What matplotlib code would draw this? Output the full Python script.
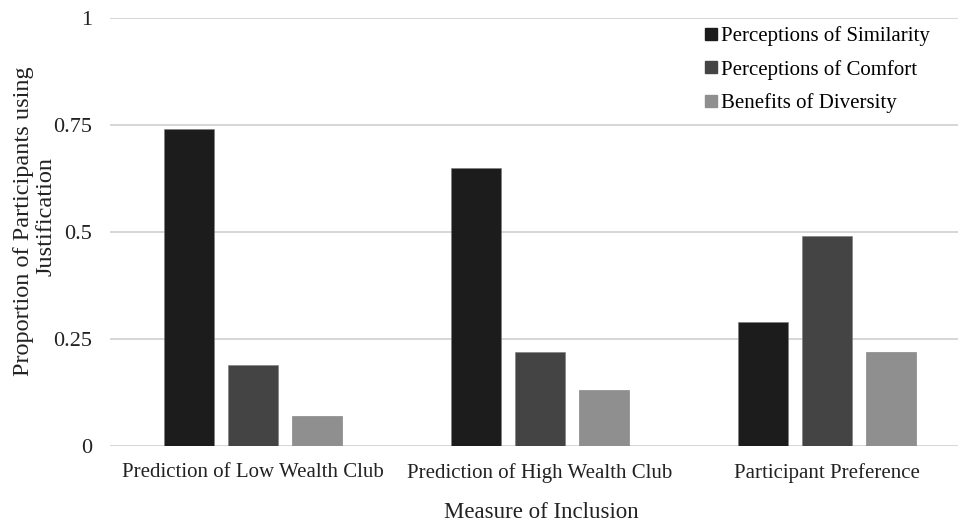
import numpy as np
import matplotlib.pyplot as plt
from matplotlib.lines import Line2D

categories = ['Prediction of Low Wealth Club', 'Prediction of High Wealth Club', 'Participant Preference']
series = ['Perceptions of Similarity', 'Perceptions of Comfort', 'Benefits of Diversity']
similarity = [0.74, 0.65, 0.29]
comfort = [0.19, 0.22, 0.49]
diversity = [0.07, 0.13, 0.22]
yticks = [0, 0.25, 0.5, 0.75, 1]
ytick_labels = ['0', '0.25', '0.5', '0.75', '1']

colors = ['#1c1c1c', '#444444', '#8f8f8f']

plt.rcParams['font.family'] = ['Liberation Serif', 'DejaVu Serif']

fig = plt.figure(figsize=(9.58, 5.25), dpi=100)
W, H = 958, 525
ax = fig.add_axes([110 / W, (H - 446) / H, (958 - 110) / W, (446 - 18) / H])

x = np.arange(len(categories))
width = 0.174
step = 0.223
for i, (vals, c) in enumerate(zip([similarity, comfort, diversity], colors)):
    ax.bar(x + (i - 1) * step, vals, width, color=c, edgecolor='#7a7a7a',
           linewidth=0.4, zorder=3, label=series[i])

ax.set_xlim(-0.5, 2.5 - 12 / 287)
ax.set_ylim(0, 1)
ax.set_yticks(yticks)
ax.set_yticklabels(ytick_labels, fontsize=16)
ax.set_xticks(x)
ax.set_xticklabels(categories, fontsize=15)
ax.tick_params(axis='both', length=0, colors='#222222')
ax.tick_params(axis='y', pad=13)
ax.tick_params(axis='x', pad=12)

ax.grid(axis='y', color='#d0d0d0', linewidth=1.2, zorder=0)
for s in ax.spines.values():
    s.set_visible(False)

fig.text(541 / W, 1 - 513 / H, 'Measure of Inclusion', fontsize=16.5,
         ha='center', va='center', color='#222222')
# y label as two separate lines (wrapped like the original)
fig.text(24 / W, 1 - 221 / H, 'Proportion of Participants using',
         fontsize=17.5, rotation=90, ha='center', va='center', color='#222222')
fig.text(46 / W, 1 - 217 / H, 'Justification',
         fontsize=17.5, rotation=90, ha='center', va='center', color='#222222')

handles = [Line2D([], [], marker='s', linestyle='', markersize=8, color=c) for c in colors]
fig.legend(handles, series, loc='upper left', bbox_to_anchor=(694 / W, 1 - 16 / H),
           frameon=False, fontsize=15, handlelength=0.6, handletextpad=0.2,
           labelspacing=0.65, borderpad=0)

fig.savefig('out.png', dpi=100)
